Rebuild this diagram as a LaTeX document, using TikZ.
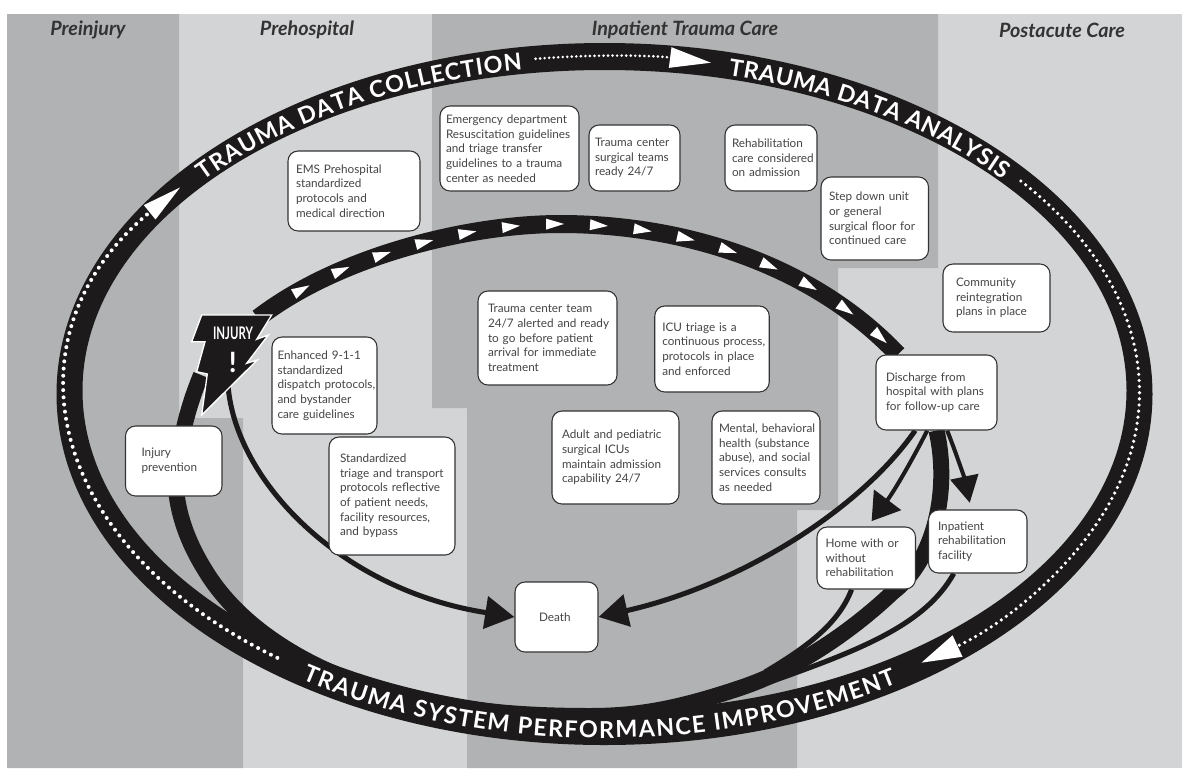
\documentclass[tikz,border=0pt]{standalone}
\usepackage{fontspec}
\setmainfont{Lato}
\usetikzlibrary{arrows.meta,backgrounds,decorations.markings,decorations.text}
\definecolor{darkzone}{HTML}{B1B2B4}
\definecolor{lightzone}{HTML}{D3D4D6}
\definecolor{bandblack}{HTML}{1C1A1B}
\definecolor{boxtext}{HTML}{454547}
\newcommand{\ringfont}{\color{white}\fontsize{17.5}{17.5}\selectfont\bfseries}
\tikzset{
    phase/.style={font=\fontsize{14.8}{14.8}\selectfont\bfseries\itshape,text=black!80},
    infobox/.style n args={3}{
        draw=black!80,line width=0.8pt,fill=white,rounded corners=7.5pt,
        font=\fontsize{8.8}{11}\selectfont,text=boxtext,align=left,
        inner xsep=0.75pt,inner ysep=0pt,
        text width={(#1-2)*0.75pt},minimum height={#2*0.75pt},
        execute at begin node={\hyphenpenalty=10000\pgfmathsetlength{\leftskip}{(#3*0.75-0.75)*1pt}}
    },
    ringtext/.style={decorate,decoration={text along path,text align=fit to path,text={|\ringfont|#1}}},
    ringflow/.style n args={4}{white,line width=#1,line cap=round,dash pattern=on 0pt off #2,
        -{Triangle[length=#3,width=#4,fill=white]}},
    fate/.style={bandblack,line width=3.8pt},
    fatehead/.style n args={2}{fate,-{Triangle[length=#1,width=#2]}},
    backbone/.style={bandblack,line width=12pt},
    stage/.style={bandblack,line width=13.5pt,postaction={decorate},
        decoration={markings,mark=between positions 0.075 and 0.97 step 0.0635 with {
            \fill[white] (-9,-5.5) -- (9,0) -- (-9,5.5) -- cycle;}}}
}
\begin{document}
\begin{tikzpicture}[x=0.75pt,y=-0.75pt]
    \useasboundingbox (0,0) rectangle (1182,768);
    % care phases
    \node[phase] (preinjury) at (88,30) {Preinjury};
    \node[phase] (prehospital) at (307,30) {Prehospital};
    \node[phase] (inpatient) at (685,30) {Inpatient Trauma Care};
    \node[phase] (postacute) at (1062,30) {Postacute Care};
    % boxes
    \node[infobox={132}{80}{8}] (ems) at (354,191) {EMS Prehospital\\standardized\\protocols and\\medical direction};
    \node[infobox={139}{85}{6}] (edguide) at (509.5,148.5) {Emergency department\\Resuscitation guidelines\\and triage transfer\\guidelines to a trauma\\center as needed};
    \node[infobox={91}{66}{6}] (surgical) at (634.5,158) {Trauma center\\surgical teams\\ready 24/7};
    \node[infobox={92}{66}{7}] (rehabcare) at (771,158) {Rehabilitation\\care considered\\on admission};
    \node[infobox={107.5}{83}{8}] (stepdown) at (874.75,218.5) {Step down unit\\or general\\surgical floor for\\continued care};
    \node[infobox={107}{68}{13}] (community) at (996.5,298) {Community\\reintegration\\plans in place};
    \node[infobox={121}{75}{10}] (discharge) at (936.5,392.5) {Discharge from\\hospital with plans\\for follow-up care};
    \node[infobox={114.5}{86}{7.5}] (icu) at (712,349) {ICU triage is a\\continuous process,\\protocols in place\\and enforced};
    \node[infobox={139}{94}{10}] (teamready) at (547.5,338) {Trauma center team\\24/7 alerted and ready\\to go before patient\\arrival for immediate\\treatment};
    \node[infobox={105}{97}{5.5}] (dispatch) at (324.5,385.5) {Enhanced 9-1-1\\standardized\\dispatch protocols,\\and bystander\\care guidelines};
    \node[infobox={126}{118}{11}] (triage) at (392,496) {Standardized\\triage and transport\\protocols reflective\\of patient needs,\\facility resources,\\and bypass};
    \node[infobox={96.5}{70}{16}] (prevention) at (173.75,461) {Injury\\prevention};
    \node[infobox={127}{93}{10}] (adult) at (615.5,457.5) {Adult and pediatric\\surgical ICUs\\maintain admission\\capability 24/7};
    \node[infobox={108}{93}{7}] (mental) at (766,457.5) {Mental, behavioral\\health (substance\\abuse), and social\\services consults\\as needed};
    \node[infobox={83}{70}{24}] (death) at (556.5,617) {Death};
    \node[infobox={98.5}{62}{8.7}] (home) at (866.25,558) {Home with or\\without\\rehabilitation};
    \node[infobox={98.5}{63}{9.5}] (facility) at (977.75,541.5) {Inpatient\\rehabilitation\\facility};
    % injury label
    \node[text=white,font=\fontsize{13}{13}\selectfont\bfseries] (injury) at (233,333) {\scalebox{0.66}[1]{INJURY}};
    \node[text=white,font=\fontsize{21}{21}\selectfont\bfseries] (bang) at (232.7,362) {!};
    \coordinate (bolt) at (228,385);
    \coordinate (boltarc) at (258,318);
    \coordinate (boltback) at (201,375);
    \coordinate (homejoin) at (765,672);
    \coordinate (facilityjoin) at (770,682);
    \begin{scope}[on background layer]
        % zones
        \fill[lightzone] (7,14) rectangle (1182,768);
        \fill[darkzone] (7,14) -- (179,14) -- (179,418) -- (243,418) -- (243,768) -- (7,768) -- cycle;
        \fill[darkzone] (432,14) -- (938,14) -- (938,268) -- (838,268) -- (838,510) -- (797,510)
            -- (797,768) -- (467,768) -- (467,408) -- (432,408) -- cycle;
        % outer ring
        \fill[bandblack,even odd rule] (604.5,394) ellipse [x radius=548,y radius=351]
            (604.5,390.5) ellipse [x radius=522,y radius=320.5];
        % patient flow
        \draw[backbone] (discharge.south) .. controls (950,490) and (935,560) .. (893,592)
            .. controls (855,628) and (800,668) .. (740,688)
            .. controls (680,708) and (640,716) .. (590,716)
            .. controls (490,716) and (420,705) .. (350,680)
            .. controls (290,657) and (235,620) .. (205,570)
            .. controls (180,530) and (165,480) .. (184,428)
            .. controls (188,410) and (194,392) .. (boltback);
        \draw[stage] (boltarc) .. controls (340,255) and (470,224) .. (560,224)
            .. controls (680,224) and (810,262) .. ([xshift=-29]discharge.north);
        \draw[fatehead={22pt}{24pt}] (bolt) .. controls (235,480) and (340,590) .. (death.west);
        \draw[fatehead={22pt}{24pt}] ([xshift=-16]discharge.south) .. controls (860,510) and (740,585) .. (death.east);
        \draw[fatehead={20pt}{25pt},line width=3pt] ([xshift=-7]discharge.south) .. controls (915,455) and (895,490) .. ([xshift=4,yshift=4]home.north);
        \draw[fatehead={20pt}{21pt},line width=3pt] ([xshift=8]discharge.south) .. controls (955,450) and (965,480) .. ([yshift=5,xshift=-6]facility.north);
        \draw[fate] ([xshift=-11]home.south) .. controls (838,625) and (805,648) .. (homejoin);
        \draw[fate] ([xshift=-18]facility.south) .. controls (925,625) and (860,650) .. (facilityjoin);
        \begin{scope}[shift={(604.5,392)}]
            \draw[ringflow={3pt}{5.4pt}{30pt}{13pt}] (127.7:535 and 336) arc [start angle=127.7,end angle=217.6,x radius=535,y radius=336];
            \draw[ringflow={2.2pt}{3.4pt}{31pt}{15pt}] (262.6:535 and 336) arc [start angle=262.6,end angle=281.5,x radius=535,y radius=336];
            \draw[ringflow={2.7pt}{4.6pt}{30pt}{17pt}] (-38.9:535 and 336) arc [start angle=-38.9,end angle=53.7,x radius=535,y radius=336];
            \path[ringtext={TRAUMA DATA COLLECTION}] (220.4:526 and 326) arc [start angle=220.4,end angle=261,x radius=526,y radius=326];
            \path[ringtext={TRAUMA DATA ANALYSIS}] (283.6:526 and 326) arc [start angle=283.6,end angle=319.3,x radius=526,y radius=326];
            \path[ringtext={TRAUMA SYSTEM PERFORMANCE IMPROVEMENT}] (123.8:544 and 346) arc [start angle=123.8,end angle=57.5,x radius=544,y radius=346];
        \end{scope}
        % lightning
        \fill[bandblack,draw=white,line width=1pt] (201.7,315) -- (191.7,341.7) -- (205,341.7) -- (196.7,371.7)
            -- (207.3,374) -- (201.7,415) -- (257.3,360) -- (246.7,363.3) -- (268.3,335) -- (256.7,339.3)
            -- (271.7,315) -- cycle;
    \end{scope}
\end{tikzpicture}
\end{document}
